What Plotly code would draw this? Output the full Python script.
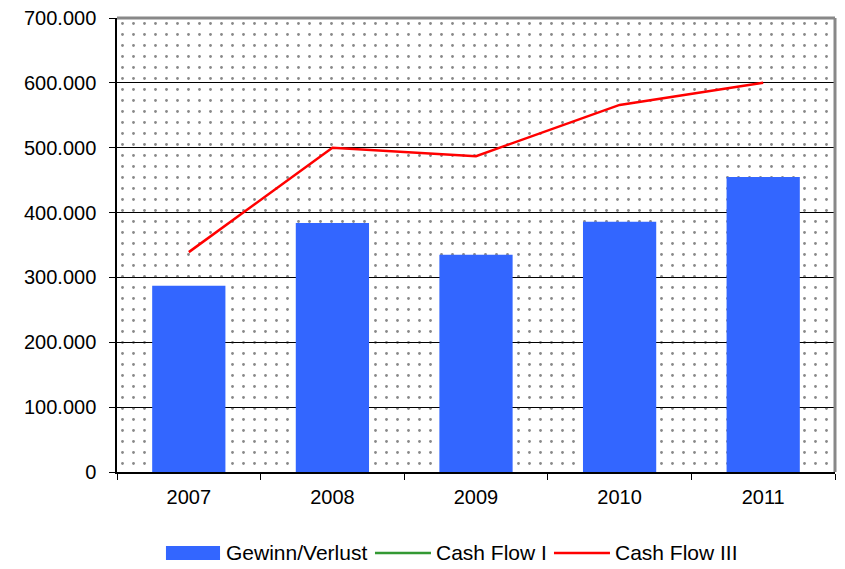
import plotly.graph_objects as go

# data
years = ["2007", "2008", "2009", "2010", "2011"]
gewinn_verlust = [287000, 384000, 335000, 386000, 455000]
cash_flow_1 = [None, None, None, None, None]
cash_flow_3 = [339000, 500000, 487000, 566000, 600000]
y_max = 700000

font = "Liberation Sans, Arial, sans-serif"
blue, green, red = "#3366FF", "#339933", "#FF0000"

fig = go.Figure()

# dotted plot background (transparent bars with a dot pattern filling each category)
fig.add_trace(go.Bar(
    x=years, y=[y_max] * len(years), width=1,
    marker=dict(color="rgba(0,0,0,0)", line=dict(width=0),
                pattern=dict(shape=".", fgcolor="#111111", bgcolor="rgba(0,0,0,0)",
                             size=11, solidity=0.05, fillmode="overlay")),
    showlegend=False, hoverinfo="skip"
))

fig.add_trace(go.Bar(
    x=years, y=gewinn_verlust, name="Gewinn/Verlust", width=0.51,
    marker=dict(color=blue, line=dict(width=0))
))
fig.add_trace(go.Scatter(
    x=years, y=cash_flow_1, name="Cash Flow I", mode="lines",
    line=dict(color=green, width=2.5)
))
fig.add_trace(go.Scatter(
    x=years, y=cash_flow_3, name="Cash Flow III", mode="lines",
    line=dict(color=red, width=2.5)
))

# gray frame on top and right like the original
fig.add_shape(type="line", xref="paper", yref="paper", x0=0, x1=1, y0=1, y1=1,
              line=dict(color="#888888", width=3))
fig.add_shape(type="line", xref="paper", yref="paper", x0=1, x1=1, y0=0, y1=1,
              line=dict(color="#888888", width=3))

# hand-made legend below the plot (wide symbols like the original)
leg_y = -0.1784
fig.add_shape(type="rect", xref="paper", yref="paper", x0=0.0682, x1=0.1435,
              y0=-0.1938, y1=-0.163, fillcolor=blue, line=dict(width=0))
fig.add_shape(type="line", xref="paper", yref="paper", x0=0.3593, x1=0.4373,
              y0=leg_y, y1=leg_y, line=dict(color=green, width=2.5))
fig.add_shape(type="line", xref="paper", yref="paper", x0=0.6086, x1=0.6866,
              y0=leg_y, y1=leg_y, line=dict(color=red, width=2.5))
for x_pos, label in [(0.1490, "Gewinn/Verlust"), (0.4415, "Cash Flow I"), (0.6908, "Cash Flow III")]:
    fig.add_annotation(x=x_pos, y=leg_y, xref="paper", yref="paper", text=label,
                       showarrow=False, xanchor="left", yanchor="middle",
                       font=dict(size=21, family=font, color="black"))

fig.update_layout(
    width=845, height=569,
    margin=dict(l=117, r=10, t=18, b=97),
    paper_bgcolor="white", plot_bgcolor="white",
    barmode="overlay",
    separators=",.",
    showlegend=False,
    font=dict(family=font, size=20, color="black"),
)
fig.update_xaxes(
    type="category", tickson="boundaries", ticks="outside", ticklen=6,
    tickcolor="black", showline=True, linecolor="black", linewidth=1.5,
    showgrid=False, tickfont=dict(size=20), ticklabelstandoff=6, automargin=False
)
fig.update_yaxes(
    range=[0, y_max], dtick=100000, tickformat=",d", ticks="outside", ticklen=6,
    tickcolor="black", showline=True, linecolor="black", linewidth=1.5,
    showgrid=True, gridcolor="black", gridwidth=1, zeroline=False,
    tickfont=dict(size=20), ticklabelstandoff=9, automargin=False
)

fig.write_html("out.html", config={"displayModeBar": False},
               post_script="document.body.style.margin='0';")
